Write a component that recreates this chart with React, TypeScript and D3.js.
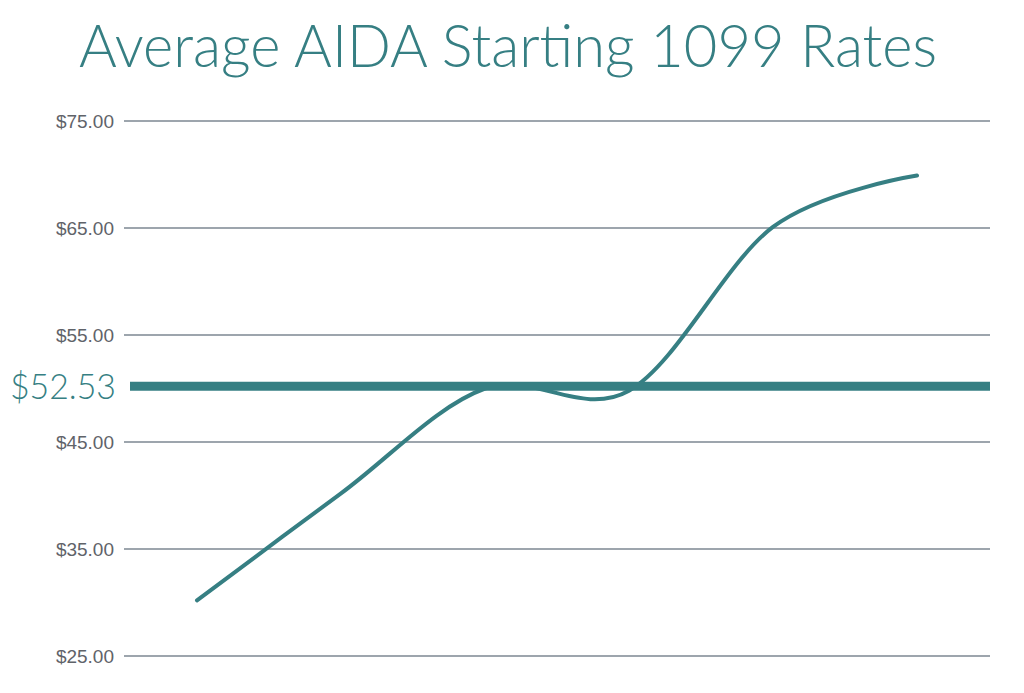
import * as d3 from "d3";

// x categories are not labelled in the picture
const categories = ["p1", "p2", "p3", "p4", "p5", "p6"];
const rates = [30.2, 40.2, 50.0, 49.8, 65.1, 69.9];
const yTicks = [25, 35, 45, 55, 65, 75];
const averageLabel = "$52.53";
// the drawn average line sits a little lower than its label says
const averageLineAt = 50.2;

const teal = "#367f83";
const handFont = "'Comic Sans MS', Lato, 'Open Sans', sans-serif";

export default function App() {
  const width = 1024;
  const height = 693;

  const x = d3.scalePoint<string>().domain(categories).range([197, 917]);
  const y = d3.scaleLinear().domain([25, 75]).range([656, 121]);

  const line = d3
    .line<number>()
    .x((_, i) => x(categories[i]) as number)
    .y((d) => y(d))
    .curve(d3.curveCardinal.tension(0));

  const money = d3.format("$.2f");

  return (
    <svg
      width={width}
      height={height}
      style={{ position: "absolute", left: 0, top: 0, background: "#fff" }}
    >
      <text
        x={508}
        y={67}
        textAnchor="middle"
        fill={teal}
        fontFamily={handFont}
        fontWeight={300}
        fontSize={60}
        textLength={858}
        lengthAdjust="spacingAndGlyphs"
      >
        Average AIDA Starting 1099 Rates
      </text>

      {yTicks.map((t) => (
        <g key={t}>
          <line
            x1={124}
            x2={990}
            y1={y(t)}
            y2={y(t)}
            stroke="#7d8792"
            strokeWidth={1.5}
          />
          <text
            x={114}
            y={y(t)}
            dy="0.35em"
            textAnchor="end"
            fill="#5f6369"
            fontFamily="'Liberation Sans', Arial, sans-serif"
            fontSize={19}
          >
            {money(t)}
          </text>
        </g>
      ))}

      <path
        d={line(rates) ?? ""}
        fill="none"
        stroke={teal}
        strokeWidth={4}
        strokeLinecap="round"
      />

      <line
        x1={130}
        x2={990}
        y1={y(averageLineAt)}
        y2={y(averageLineAt)}
        stroke={teal}
        strokeWidth={9}
      />
      <text
        x={10}
        y={y(averageLineAt)}
        dy="0.35em"
        fill={teal}
        fontFamily={handFont}
        fontWeight={300}
        fontSize={36}
        textLength={106}
        lengthAdjust="spacingAndGlyphs"
      >
        {averageLabel}
      </text>
    </svg>
  );
}
